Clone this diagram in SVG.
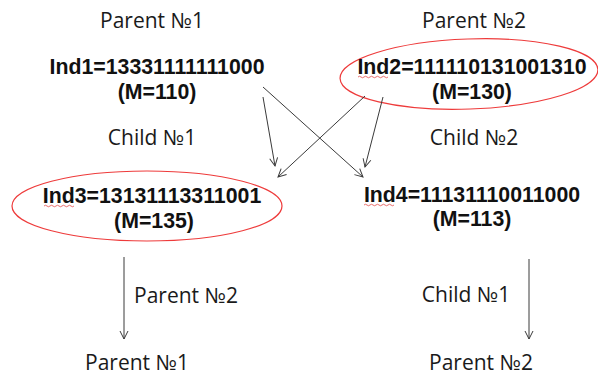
<svg xmlns="http://www.w3.org/2000/svg" width="598" height="376" viewBox="0 0 598 376">
  <defs>
    <style>
      .lbl { font-family: "Open Sans", "Noto Sans", sans-serif; font-size: 21px; fill: #1a1a1a; text-anchor: middle; }
      .ind { font-family: "Liberation Sans", Arial, sans-serif; font-size: 21.3px; font-weight: bold; fill: #111; text-anchor: middle; }
      .ring { fill: none; stroke: #ee3b3b; stroke-width: 1.2; }
      .spell { fill: none; stroke: #e03030; stroke-width: 0.7; }
      .link { fill: none; stroke: #3a3a3a; stroke-width: 1; marker-end: url(#head); }
    </style>
    <marker id="head" viewBox="0 0 10 10" refX="9" refY="5" markerWidth="10" markerHeight="10" markerUnits="userSpaceOnUse" orient="auto">
      <path d="M1,1 L9,5 L1,9" fill="none" stroke="#3a3a3a" stroke-width="1"/>
    </marker>
  </defs>

  <rect width="598" height="376" fill="#ffffff"/>

  <g id="parent1">
    <text class="lbl" x="152" y="28">Parent №1</text>
    <text class="ind" x="157" y="74">Ind1=13331111111000</text>
    <text class="ind" x="157" y="99">(M=110)</text>
  </g>

  <g id="parent2">
    <text class="lbl" x="474" y="28">Parent №2</text>
    <ellipse class="ring" cx="469" cy="74" rx="129" ry="35" transform="rotate(-2 469 74)"/>
    <text class="ind" x="472" y="74">Ind2=111110131001310</text>
    <path class="spell" d="M358,77 q1.5,-1.5 3,0 t3,0 t3,0 t3,0 t3,0 t3,0 t3,0 t3,0 t3,0 t3,0"/>
    <text class="ind" x="472" y="99">(M=130)</text>
  </g>

  <g id="child1">
    <text class="lbl" x="152" y="145">Child №1</text>
    <ellipse class="ring" cx="147" cy="206" rx="135" ry="35"/>
    <text class="ind" x="152" y="203">Ind3=13131113311001</text>
    <path class="spell" d="M44,206 q1.5,-1.5 3,0 t3,0 t3,0 t3,0 t3,0 t3,0 t3,0 t3,0 t3,0 t3,0"/>
    <text class="ind" x="154" y="228">(M=135)</text>
  </g>

  <g id="child2">
    <text class="lbl" x="474" y="145">Child №2</text>
    <text class="ind" x="472" y="202">Ind4=11131110011000</text>
    <path class="spell" d="M364,205 q1.5,-1.5 3,0 t3,0 t3,0 t3,0 t3,0 t3,0 t3,0 t3,0 t3,0 t3,0"/>
    <text class="ind" x="472" y="226">(M=113)</text>
  </g>

  <g id="next-left">
    <text class="lbl" x="186" y="303">Parent №2</text>
    <text class="lbl" x="137" y="370">Parent №1</text>
  </g>

  <g id="next-right">
    <text class="lbl" x="466" y="302">Child №1</text>
    <text class="lbl" x="481" y="370">Parent №2</text>
  </g>

  <g id="connectors">
    <line class="link" x1="263" y1="97" x2="275" y2="166"/>
    <line class="link" x1="263" y1="87" x2="363" y2="177"/>
    <line class="link" x1="365" y1="96" x2="278" y2="177"/>
    <line class="link" x1="383" y1="97" x2="365" y2="167"/>
    <line class="link" x1="124" y1="257" x2="124" y2="339"/>
    <line class="link" x1="529" y1="259" x2="529" y2="339"/>
  </g>
</svg>
